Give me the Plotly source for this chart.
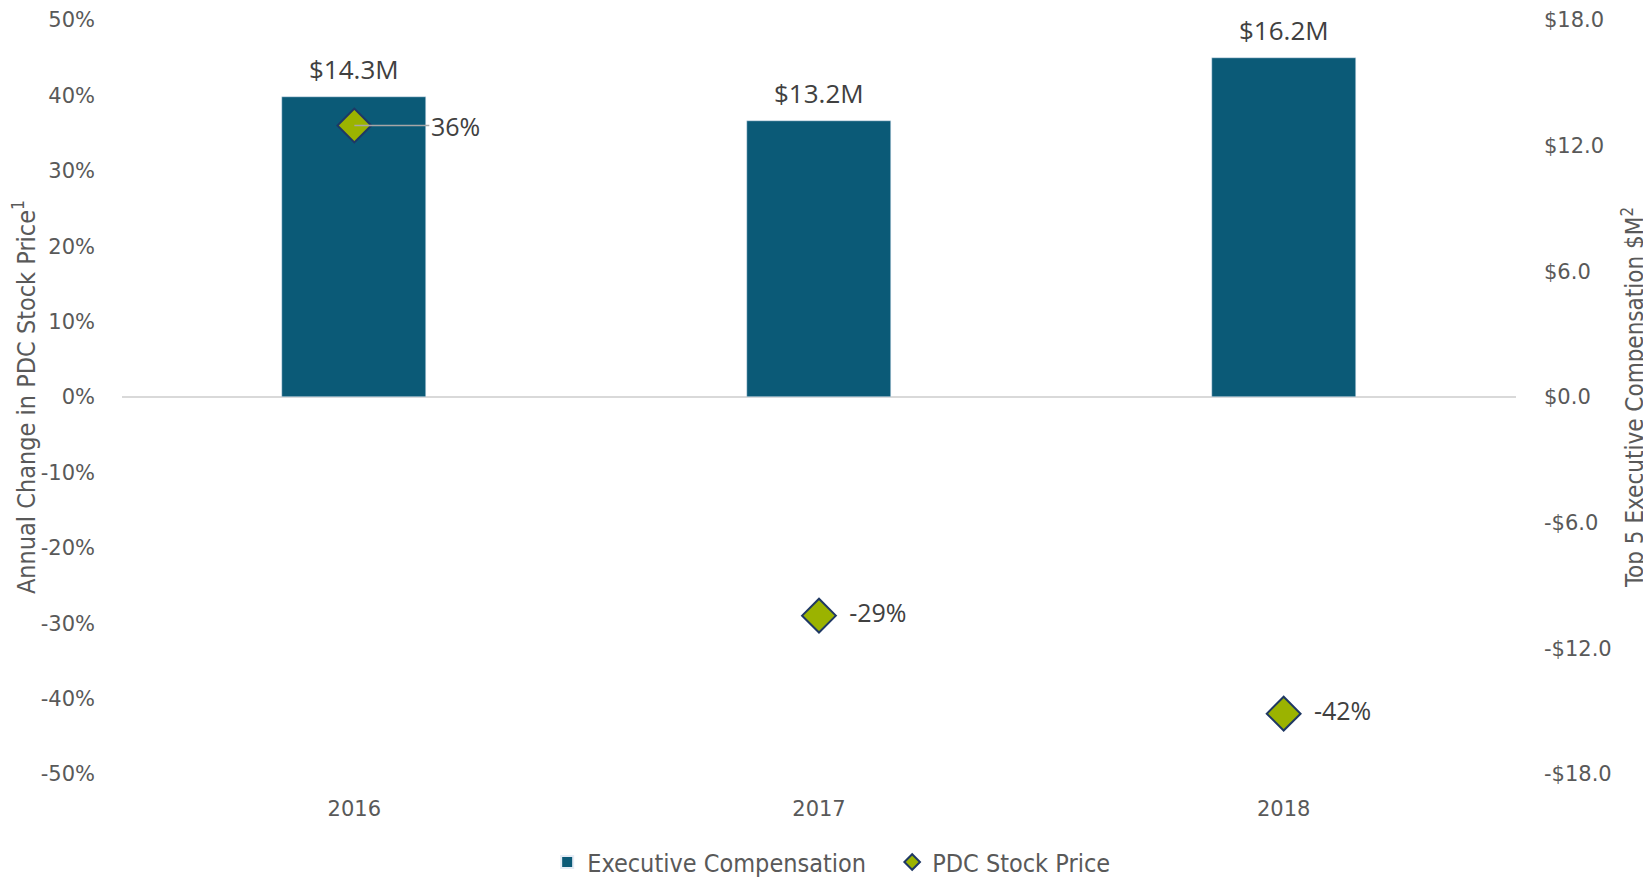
import plotly.graph_objects as go

# -------------------------------
# data
# -------------------------------
years = ["2016", "2017", "2018"]
exec_comp = [14.3, 13.2, 16.2]          # $M, right axis
stock_change = [36, -29, -42]           # %, left axis

pct_ticks = [50, 40, 30, 20, 10, 0, -10, -20, -30, -40, -50]
pct_labels = ["50%", "40%", "30%", "20%", "10%", "0%", "-10%", "-20%", "-30%", "-40%", "-50%"]
usd_ticks = [18, 12, 6, 0, -6, -12, -18]
usd_labels = ["$18.0", "$12.0", "$6.0", "$0.0", "-$6.0", "-$12.0", "-$18.0"]

BAR = "#0B5A77"
DIAMOND = "#9BB300"
EDGE = "#1F3864"
TICK = "#595959"
LABEL = "#404040"
NARROW = "DejaVu Sans Condensed, Liberation Sans Narrow, Roboto, sans-serif"
WIDE = "DejaVu Sans, Verdana, sans-serif"

fig = go.Figure()

fig.add_trace(go.Bar(
    x=years, y=exec_comp, name="Executive Compensation",
    marker=dict(color=BAR), width=0.31, yaxis="y",
))

# bar value labels sit a bit higher than plotly's "outside" text, so annotations
# (x is the category index: numeric-looking strings get read as indices)
for i, v in enumerate(exec_comp):
    fig.add_annotation(
        x=i, y=v, xref="x", yref="y", text=f"${v:.1f}M", showarrow=False,
        yanchor="bottom", yshift=8,
        font=dict(size=26, color=LABEL, family="Open Sans"),
    )

# first label gets a leader line, done as annotation below
pt_text = ["" if i == 0 else f"  {v}%" for i, v in enumerate(stock_change)]
fig.add_trace(go.Scatter(
    x=years, y=stock_change, name="PDC Stock Price", mode="markers+text",
    marker=dict(symbol="diamond", size=26, color=DIAMOND, line=dict(color=EDGE, width=2)),
    text=pt_text, textposition="middle right",
    textfont=dict(size=25, color=LABEL, family="Open Sans"),
    yaxis="y2", cliponaxis=False,
))

fig.add_annotation(
    x=0, y=stock_change[0], xref="x", yref="y2",
    text=f"{stock_change[0]}%", showarrow=True, arrowhead=0, arrowwidth=1.5,
    arrowcolor="#A6A6A6", ax=75, ay=0, xanchor="left", standoff=0,
    font=dict(size=25, color=LABEL, family="Open Sans"),
)

# page body adds an 8px margin, so the figure is 8px smaller each way
fig.update_layout(
    width=1643, height=871,
    margin=dict(l=114, r=135, t=12, b=105, autoexpand=False),
    plot_bgcolor="white", paper_bgcolor="white",
    bargap=0,
    font=dict(family="Open Sans", color=TICK),
    xaxis=dict(type="category", showgrid=False, showline=False, ticks="", zeroline=False,
               automargin=False,
               tickfont=dict(size=21, color=TICK, family=WIDE), ticklabelstandoff=20),
    yaxis=dict(side="right", range=[-18, 18], tickvals=usd_ticks, ticktext=usd_labels,
               showgrid=False, zeroline=True, zerolinecolor="#D9D9D9", zerolinewidth=1.5,
               automargin=False, ticklabeloverflow="allow",
               tickfont=dict(size=21, color=TICK, family=WIDE), ticklabelstandoff=27,
               title=dict(text="Top 5 Executive Compensation $M<sup>2</sup>",
                          font=dict(size=24, color=TICK, family=NARROW),
                          standoff=15)),
    yaxis2=dict(side="left", overlaying="y", range=[-50, 50], tickvals=pct_ticks,
                ticktext=pct_labels, showgrid=False, zeroline=False,
                automargin=False, ticklabeloverflow="allow",
                tickfont=dict(size=21, color=TICK, family=WIDE), ticklabelstandoff=26,
                title=dict(text="Annual Change in PDC Stock Price<sup>1</sup>",
                           font=dict(size=25, color=TICK, family=NARROW),
                           standoff=18)),
    legend=dict(orientation="h", x=0.305, xanchor="left", y=-0.117,
                yanchor="middle", entrywidth=300,
                font=dict(size=25, color=TICK, family=NARROW),
                itemsizing="constant", traceorder="normal"),
    showlegend=True,
)

fig.write_html("out.html")
